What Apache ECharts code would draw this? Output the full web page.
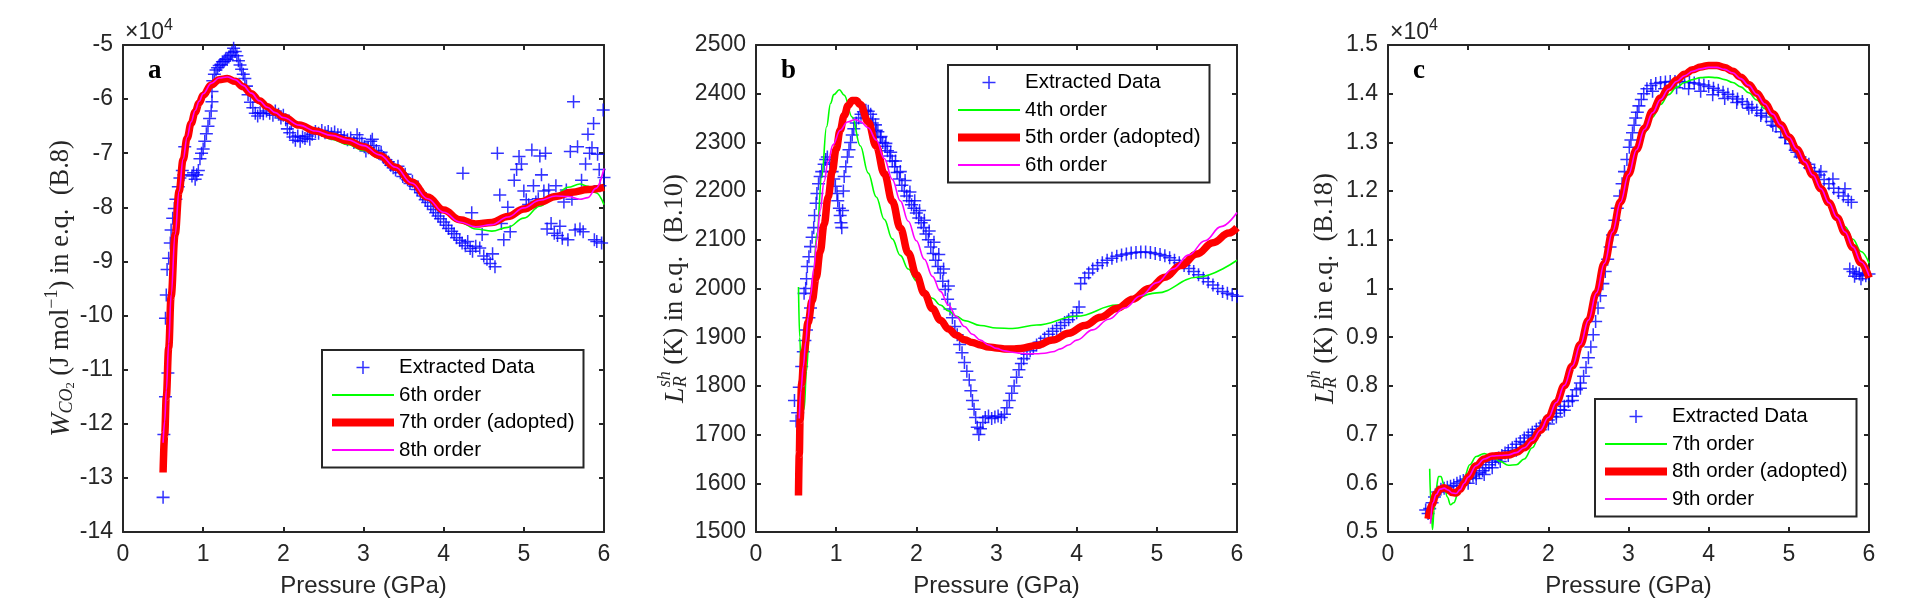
<!DOCTYPE html>
<html>
<head>
<meta charset="utf-8">
<title>Polynomial fits vs pressure</title>
<script src="https://cdn.jsdelivr.net/npm/echarts@6.0.0/dist/echarts.min.js"></script>
<style>
  html, body { margin: 0; padding: 0; background: #fff; }
  #chart { width: 1913px; height: 600px; }
</style>
</head>
<body>
<div id="chart"></div>
<script>
// ---- panel a : W_CO2 (x10^4 J/mol) ----
var aExtracted = [
  [0.50,-13.36],[0.51,-12.20],[0.53,-11.50],[0.56,-11.06],[0.53,-10.05],[0.54,-9.62],[0.55,-9.15],[0.57,-8.94],
  [0.59,-8.66],[0.60,-8.42],[0.62,-8.20],[0.64,-8.02],[0.66,-7.85],[0.69,-7.62],[0.71,-7.46],[0.74,-7.32],
  [0.76,-7.40],[0.77,-6.88],[0.86,-7.42],[0.88,-7.36],[0.90,-7.48],[0.92,-7.40],[0.94,-7.32],[0.96,-7.10],
  [0.98,-7.00],[1.00,-6.92],[1.02,-6.78],[1.04,-6.64],[1.06,-6.50],[1.08,-6.36],[1.10,-6.22],[1.11,-6.05],
  [1.11,-5.86],[1.12,-5.66],[1.14,-5.54],[1.16,-5.46],[1.18,-5.42],[1.20,-5.38],[1.22,-5.36],[1.24,-5.31],
  [1.26,-5.30],[1.28,-5.26],[1.30,-5.27],[1.32,-5.22],[1.34,-5.19],[1.36,-5.14],[1.38,-5.06],[1.40,-5.12],
  [1.42,-5.20],[1.44,-5.29],[1.46,-5.37],[1.48,-5.45],[1.50,-5.54],[1.52,-5.62],[1.54,-5.76],[1.56,-5.92],
  [1.59,-6.06],[1.62,-6.16],[1.65,-6.26],[1.68,-6.31],[1.71,-6.25],[1.75,-6.27],[1.79,-6.22],[1.83,-6.26],
  [1.87,-6.30],[1.90,-6.22],[1.94,-6.28],[1.97,-6.35],[2.00,-6.30],[2.03,-6.38],[2.05,-6.55],[2.08,-6.62],
  [2.10,-6.45],[2.12,-6.70],[2.15,-6.76],[2.18,-6.68],[2.21,-6.78],[2.24,-6.70],[2.27,-6.73],[2.30,-6.68],
  [2.33,-6.74],[2.36,-6.65],[2.40,-6.60],[2.44,-6.63],[2.48,-6.58],[2.52,-6.62],[2.56,-6.60],[2.60,-6.64],
  [2.64,-6.61],[2.68,-6.66],[2.72,-6.67],[2.76,-6.71],[2.80,-6.75],[2.84,-6.72],[2.88,-6.80],[2.92,-6.66],
  [2.95,-6.73],[2.98,-6.81],[3.01,-6.88],[3.03,-6.96],[3.06,-6.90],[3.09,-6.78],[3.11,-6.74],[3.13,-6.86],
  [3.16,-6.95],[3.19,-7.00],[3.22,-6.98],[3.25,-7.08],[3.28,-7.12],[3.31,-7.16],[3.34,-7.22],[3.37,-7.27],
  [3.40,-7.31],[3.43,-7.24],[3.46,-7.36],[3.49,-7.43],[3.52,-7.39],[3.55,-7.49],[3.58,-7.56],[3.61,-7.52],
  [3.64,-7.61],[3.67,-7.67],[3.71,-7.73],[3.74,-7.79],[3.77,-7.86],[3.80,-7.91],[3.84,-7.98],[3.87,-8.04],
  [3.90,-8.10],[3.93,-8.16],[3.96,-8.21],[4.00,-8.27],[4.03,-8.33],[4.06,-8.39],[4.10,-8.44],[4.13,-8.49],
  [4.16,-8.56],[4.20,-8.61],[4.23,-8.66],[4.27,-8.71],[4.30,-8.63],[4.33,-8.76],[4.36,-8.81],[4.40,-8.72],
  [4.24,-7.37],[4.35,-8.10],[4.45,-8.75],[4.48,-8.50],[4.50,-8.90],[4.54,-8.96],[4.58,-9.04],[4.61,-8.86],
  [4.64,-9.10],[4.67,-7.00],[4.70,-7.77],[4.72,-8.30],[4.75,-8.60],[4.80,-8.00],[4.83,-8.45],[4.88,-7.50],
  [4.91,-7.30],[4.94,-7.06],[4.97,-7.20],[5.00,-7.70],[5.03,-7.86],[5.06,-7.95],[5.10,-6.94],[5.12,-7.60],
  [5.15,-7.90],[5.18,-7.84],[5.20,-7.05],[5.22,-7.40],[5.25,-7.70],[5.27,-7.00],[5.29,-8.40],[5.31,-7.68],
  [5.34,-8.30],[5.38,-8.48],[5.40,-7.60],[5.42,-8.52],[5.45,-8.35],[5.48,-8.57],[5.50,-7.90],[5.53,-7.68],
  [5.55,-8.60],[5.58,-6.97],[5.60,-7.85],[5.62,-6.05],[5.64,-8.42],[5.67,-6.88],[5.70,-8.40],[5.72,-7.50],
  [5.74,-8.45],[5.77,-7.20],[5.80,-6.65],[5.82,-7.00],[5.85,-6.90],[5.87,-6.45],[5.88,-8.60],[5.91,-8.63],
  [5.92,-7.02],[5.94,-7.30],[5.95,-7.60],[5.97,-8.66],[5.99,-6.20],[6.00,-7.45]
];
var aFit6 = [
  [0.5,-12.85],[0.52,-12.15],[0.54,-11.45],[0.57,-10.55],[0.6,-9.62],[0.65,-8.48],[0.7,-7.69],[0.75,-7.11],
  [0.8,-6.71],[0.85,-6.44],[0.9,-6.23],[0.95,-6.06],[1.0,-5.92],[1.1,-5.73],[1.2,-5.63],[1.3,-5.61],
  [1.4,-5.65],[1.5,-5.74],[1.6,-5.86],[1.7,-5.99],[1.8,-6.11],[1.9,-6.22],[2.0,-6.32],[2.2,-6.49],
  [2.4,-6.62],[2.6,-6.74],[2.8,-6.84],[3.0,-6.95],[3.2,-7.09],[3.4,-7.28],[3.6,-7.53],[3.8,-7.8],
  [4.0,-8.06],[4.2,-8.27],[4.4,-8.4],[4.6,-8.44],[4.8,-8.37],[5.0,-8.2],[5.2,-7.98],[5.4,-7.77],
  [5.55,-7.63],[5.7,-7.57],[5.8,-7.61],[5.9,-7.73],[6.0,-7.95]
];
var aFit7 = [
  [0.5,-12.9],[0.52,-12.2],[0.54,-11.5],[0.57,-10.6],[0.6,-9.65],[0.65,-8.5],[0.7,-7.7],[0.75,-7.12],
  [0.8,-6.72],[0.85,-6.45],[0.9,-6.24],[0.95,-6.07],[1.0,-5.93],[1.1,-5.74],[1.2,-5.64],[1.3,-5.62],
  [1.4,-5.67],[1.5,-5.77],[1.6,-5.9],[1.7,-6.03],[1.8,-6.14],[1.9,-6.24],[2.0,-6.33],[2.2,-6.48],
  [2.4,-6.59],[2.6,-6.68],[2.8,-6.77],[3.0,-6.88],[3.2,-7.04],[3.4,-7.26],[3.6,-7.53],[3.8,-7.81],
  [4.0,-8.05],[4.2,-8.23],[4.4,-8.31],[4.6,-8.28],[4.8,-8.17],[5.0,-8.03],[5.2,-7.9],[5.4,-7.8],
  [5.6,-7.72],[5.8,-7.67],[6.0,-7.63]
];
var aFit8 = [
  [0.5,-12.35],[0.52,-11.95],[0.54,-11.38],[0.57,-10.52],[0.6,-9.62],[0.65,-8.5],[0.7,-7.7],[0.75,-7.11],
  [0.8,-6.7],[0.85,-6.42],[0.9,-6.21],[0.95,-6.04],[1.0,-5.9],[1.1,-5.71],[1.2,-5.61],[1.3,-5.59],
  [1.4,-5.64],[1.5,-5.75],[1.6,-5.89],[1.7,-6.03],[1.8,-6.15],[1.9,-6.25],[2.0,-6.34],[2.2,-6.48],
  [2.4,-6.59],[2.6,-6.67],[2.8,-6.75],[3.0,-6.86],[3.2,-7.03],[3.4,-7.26],[3.6,-7.55],[3.8,-7.84],
  [4.0,-8.09],[4.2,-8.27],[4.4,-8.36],[4.6,-8.32],[4.8,-8.18],[5.0,-8.01],[5.2,-7.87],[5.4,-7.79],
  [5.55,-7.8],[5.7,-7.85],[5.8,-7.82],[5.9,-7.65],[6.0,-7.28]
];

// ---- panel b : L_R^sh (K) ----
var bExtracted = [
  [0.48,1770],[0.50,1728],[0.52,1745],[0.54,1797],[0.57,1840],[0.59,1870],[0.61,1893],[0.63,1915],
  [0.66,1940],[0.68,1960],[0.60,1990],[0.62,2000],[0.63,2020],[0.64,2045],[0.66,2065],[0.68,2086],
  [0.70,2105],[0.72,2125],[0.73,2150],[0.75,2175],[0.76,2195],[0.78,2215],[0.80,2230],[0.82,2240],
  [0.85,2255],[0.87,2265],[0.89,2270],[0.92,2258],[0.95,2240],[0.97,2225],[0.99,2210],[1.01,2195],
  [1.02,2180],[1.04,2165],[1.05,2150],[1.06,2135],[1.07,2125],[1.08,2160],[1.09,2200],[1.10,2230],
  [1.12,2250],[1.14,2270],[1.16,2285],[1.18,2300],[1.20,2315],[1.22,2328],[1.25,2340],[1.28,2350],
  [1.31,2358],[1.34,2363],[1.37,2366],[1.40,2364],[1.43,2358],[1.46,2348],[1.49,2336],[1.52,2322],
  [1.55,2310],[1.58,2300],[1.61,2292],[1.64,2283],[1.67,2272],[1.70,2262],[1.73,2250],[1.76,2238],
  [1.79,2225],[1.82,2212],[1.85,2200],[1.88,2190],[1.91,2180],[1.94,2172],[1.97,2165],[2.00,2155],
  [2.03,2145],[2.06,2135],[2.09,2125],[2.12,2112],[2.15,2100],[2.18,2085],[2.21,2072],[2.24,2058],
  [2.27,2045],[2.30,2032],[2.33,2015],[2.36,1998],[2.39,1978],[2.42,1958],[2.45,1940],[2.48,1922],
  [2.51,1905],[2.54,1885],[2.57,1868],[2.60,1848],[2.63,1830],[2.66,1812],[2.68,1790],[2.70,1770],
  [2.72,1752],[2.74,1735],[2.76,1715],[2.78,1700],[2.80,1712],[2.83,1725],[2.86,1735],[2.90,1738],
  [2.94,1733],[2.98,1736],[3.02,1738],[3.06,1735],[3.10,1742],[3.13,1755],[3.16,1770],[3.19,1785],
  [3.22,1800],[3.25,1818],[3.28,1833],[3.31,1846],[3.34,1856],[3.38,1865],[3.42,1872],[3.46,1878],
  [3.50,1884],[3.55,1890],[3.60,1898],[3.65,1906],[3.70,1912],[3.75,1918],[3.80,1924],[3.85,1930],
  [3.90,1936],[3.95,1943],[4.00,1950],[4.03,1962],[4.05,2010],[4.10,2022],[4.15,2032],[4.20,2040],
  [4.26,2047],[4.32,2053],[4.38,2058],[4.44,2062],[4.50,2066],[4.56,2069],[4.62,2071],[4.68,2073],
  [4.74,2074],[4.80,2075],[4.86,2075],[4.92,2074],[4.98,2072],[5.04,2070],[5.10,2067],[5.16,2063],
  [5.22,2058],[5.28,2053],[5.34,2047],[5.40,2041],[5.46,2035],[5.52,2028],[5.58,2021],[5.64,2014],
  [5.70,2007],[5.76,2000],[5.82,1994],[5.88,1990],[5.94,1987],[6.00,1984],
  [1.45,2340],[1.50,2325],[1.56,2312],[1.62,2298],[1.68,2280],[1.74,2262],[1.80,2240],[1.86,2222],
  [1.92,2198],[1.98,2180],[2.04,2160],[2.10,2140],[2.16,2118],[2.22,2095],[2.28,2070],[2.34,2040],[2.40,2005]
];
var bFit4 = [
  [0.53,2003],[0.545,1900],[0.57,1800],[0.6,1752],[0.63,1830],[0.67,1930],[0.71,2010],[0.76,2114],
  [0.82,2230],[0.88,2332],[0.93,2380],[0.97,2398],[1.04,2408],[1.1,2397],[1.2,2352],[1.3,2293],
  [1.4,2237],[1.5,2188],[1.6,2142],[1.7,2102],[1.8,2068],[1.9,2040],[2.0,2016],[2.1,1996],
  [2.2,1980],[2.3,1966],[2.4,1954],[2.5,1943],[2.6,1934],[2.8,1924],[3.0,1919],[3.2,1918],
  [3.5,1925],[4.0,1943],[4.5,1966],[5.0,1991],[5.5,2023],[6.0,2058]
];
var bFit5 = [
  [0.53,1575],[0.54,1660],[0.55,1730],[0.57,1805],[0.6,1870],[0.65,1930],[0.7,1975],[0.75,2022],
  [0.8,2075],[0.85,2132],[0.9,2188],[0.95,2240],[1.0,2286],[1.05,2325],[1.1,2355],[1.15,2376],
  [1.2,2386],[1.25,2386],[1.3,2378],[1.4,2342],[1.5,2292],[1.6,2236],[1.7,2179],[1.8,2124],
  [1.9,2073],[2.0,2028],[2.1,1990],[2.2,1959],[2.3,1935],[2.4,1917],[2.5,1904],[2.6,1895],
  [2.7,1889],[2.8,1884],[2.9,1880],[3.0,1878],[3.1,1876],[3.2,1876],[3.3,1877],[3.5,1883],
  [3.7,1894],[3.9,1908],[4.1,1924],[4.3,1941],[4.5,1959],[4.7,1978],[4.9,2000],[5.1,2023],
  [5.3,2047],[5.5,2071],[5.7,2094],[5.9,2114],[6.0,2125]
];
var bFit6 = [
  [0.54,1733],[0.56,1790],[0.59,1840],[0.62,1890],[0.65,1940],[0.68,1985],[0.72,2040],[0.76,2100],
  [0.8,2160],[0.85,2220],[0.9,2262],[0.96,2295],[1.05,2325],[1.14,2342],[1.24,2347],[1.3,2343],
  [1.4,2330],[1.5,2305],[1.6,2267],[1.7,2224],[1.8,2180],[1.9,2138],[2.0,2098],[2.1,2060],
  [2.2,2025],[2.3,1994],[2.4,1966],[2.5,1942],[2.6,1922],[2.7,1906],[2.8,1894],[2.9,1884],
  [3.0,1877],[3.1,1872],[3.2,1869],[3.3,1867],[3.4,1866],[3.5,1866],[3.6,1867],[3.7,1870],
  [3.8,1876],[3.9,1884],[4.0,1894],[4.2,1915],[4.4,1937],[4.6,1960],[4.8,1985],[5.0,2012],
  [5.2,2040],[5.4,2069],[5.6,2098],[5.8,2127],[6.0,2156]
];

// ---- panel c : L_R^ph (x10^4 K) ----
var cExtracted = [
  [0.47,0.545],[0.50,0.538],[0.52,0.548],[0.55,0.560],[0.58,0.572],[0.62,0.582],[0.66,0.588],[0.70,0.590],
  [0.74,0.592],[0.78,0.594],[0.82,0.596],[0.86,0.600],[0.90,0.603],[0.94,0.606],[0.98,0.609],[1.02,0.612],
  [1.06,0.615],[1.10,0.619],[1.14,0.622],[1.18,0.626],[1.22,0.632],[1.26,0.638],[1.30,0.643],[1.34,0.648],
  [1.38,0.652],[1.42,0.657],[1.46,0.662],[1.50,0.667],[1.55,0.673],[1.60,0.680],[1.65,0.686],[1.70,0.693],
  [1.75,0.699],[1.80,0.705],[1.85,0.711],[1.90,0.717],[1.95,0.724],[2.00,0.730],[2.05,0.737],[2.10,0.744],
  [2.15,0.751],[2.20,0.758],[2.25,0.768],[2.30,0.779],[2.35,0.792],[2.40,0.806],[2.44,0.820],[2.47,0.838],
  [2.50,0.858],[2.53,0.880],[2.56,0.905],[2.59,0.932],[2.62,0.960],[2.65,0.985],[2.68,1.010],[2.71,1.035],
  [2.74,1.060],[2.77,1.085],[2.80,1.110],[2.83,1.140],[2.86,1.165],[2.89,1.190],[2.92,1.215],[2.95,1.240],
  [2.98,1.265],[3.01,1.290],[3.03,1.305],[3.05,1.320],[3.07,1.335],[3.09,1.350],[3.11,1.362],[3.13,1.375],
  [3.16,1.388],[3.19,1.400],[3.23,1.410],[3.28,1.417],[3.34,1.421],[3.40,1.423],[3.46,1.424],[3.52,1.425],
  [3.58,1.425],[3.64,1.425],[3.70,1.424],[3.76,1.423],[3.82,1.422],[3.88,1.420],[3.94,1.418],[4.00,1.415],
  [4.06,1.411],[4.12,1.407],[4.18,1.403],[4.24,1.399],[4.30,1.394],[4.36,1.389],[4.42,1.384],[4.48,1.378],
  [4.54,1.372],[4.60,1.366],[4.66,1.360],[4.72,1.352],[4.78,1.343],[4.84,1.333],[4.90,1.322],[4.96,1.310],
  [5.02,1.297],[5.08,1.284],[5.14,1.270],[5.20,1.258],[5.26,1.248],[5.32,1.240],[5.38,1.233],[5.44,1.224],
  [5.50,1.215],[5.56,1.206],[5.62,1.197],[5.68,1.190],[5.74,1.182],[5.78,1.177],
  [5.76,1.040],[5.80,1.035],[5.84,1.032],[5.88,1.030],[5.92,1.028],[5.96,1.026],[6.00,1.030],[5.82,1.025],[5.90,1.020],
  [1.00,0.600],[1.10,0.610],[1.20,0.618],[1.30,0.632],[1.40,0.645],[1.50,0.657],[1.60,0.668],[1.70,0.684],
  [1.80,0.697],[1.90,0.710],[2.00,0.722],[2.10,0.736],[2.20,0.750],[2.30,0.770],[2.40,0.795],
  [3.30,1.405],[3.45,1.410],[3.60,1.412],[3.75,1.410],[3.90,1.405],[4.05,1.398],[4.20,1.390],[4.35,1.382],
  [4.50,1.370],[4.65,1.355],[4.80,1.335],[4.95,1.310],[5.10,1.280],[5.25,1.255],[5.40,1.240],[5.55,1.225],[5.70,1.205]
];
var cFit7 = [
  [0.52,0.63],[0.535,0.56],[0.555,0.505],[0.575,0.545],[0.6,0.59],[0.63,0.614],[0.66,0.614],[0.7,0.596],
  [0.74,0.572],[0.78,0.556],[0.82,0.56],[0.88,0.582],[0.95,0.612],[1.02,0.638],[1.1,0.655],[1.2,0.661],
  [1.3,0.655],[1.4,0.645],[1.5,0.637],[1.6,0.638],[1.7,0.65],[1.8,0.673],[1.9,0.703],[2.0,0.735],
  [2.1,0.766],[2.2,0.801],[2.3,0.841],[2.4,0.885],[2.5,0.935],[2.6,0.991],[2.7,1.051],[2.8,1.114],
  [2.9,1.174],[3.0,1.229],[3.1,1.278],[3.2,1.319],[3.3,1.352],[3.4,1.378],[3.5,1.398],[3.6,1.413],
  [3.7,1.423],[3.8,1.429],[3.9,1.433],[4.0,1.434],[4.1,1.433],[4.2,1.429],[4.3,1.423],[4.4,1.414],
  [4.5,1.402],[4.6,1.387],[4.7,1.369],[4.8,1.349],[4.9,1.327],[5.0,1.304],[5.1,1.28],[5.2,1.256],
  [5.3,1.231],[5.4,1.205],[5.5,1.179],[5.6,1.153],[5.7,1.127],[5.8,1.101],[5.9,1.076],[6.0,1.052]
];
var cFit8 = [
  [0.5,0.527],[0.55,0.557],[0.6,0.578],[0.65,0.588],[0.7,0.591],[0.75,0.587],[0.8,0.581],[0.85,0.58],
  [0.9,0.588],[0.95,0.6],[1.0,0.613],[1.1,0.636],[1.2,0.65],[1.3,0.656],[1.4,0.657],[1.5,0.658],
  [1.6,0.663],[1.7,0.673],[1.8,0.688],[1.9,0.709],[2.0,0.735],[2.1,0.766],[2.2,0.801],[2.3,0.841],
  [2.4,0.885],[2.5,0.935],[2.6,0.991],[2.7,1.052],[2.8,1.116],[2.9,1.178],[3.0,1.235],[3.1,1.286],
  [3.2,1.329],[3.3,1.364],[3.4,1.391],[3.5,1.412],[3.6,1.428],[3.7,1.44],[3.8,1.449],[3.9,1.455],
  [4.0,1.458],[4.1,1.458],[4.2,1.454],[4.3,1.446],[4.4,1.434],[4.5,1.419],[4.6,1.401],[4.7,1.381],
  [4.8,1.359],[4.9,1.336],[5.0,1.311],[5.1,1.286],[5.2,1.26],[5.3,1.233],[5.4,1.205],[5.5,1.176],
  [5.6,1.146],[5.7,1.115],[5.8,1.084],[5.9,1.053],[6.0,1.022]
];
var cFit9 = [
  [0.53,0.517],[0.56,0.56],[0.6,0.577],[0.65,0.588],[0.7,0.59],[0.75,0.586],[0.8,0.58],[0.85,0.579],
  [0.9,0.587],[0.95,0.6],[1.0,0.613],[1.1,0.636],[1.2,0.65],[1.3,0.656],[1.4,0.657],[1.5,0.658],
  [1.6,0.663],[1.7,0.673],[1.8,0.688],[1.9,0.709],[2.0,0.735],[2.1,0.766],[2.2,0.801],[2.3,0.841],
  [2.4,0.885],[2.5,0.935],[2.6,0.991],[2.7,1.052],[2.8,1.116],[2.9,1.177],[3.0,1.234],[3.1,1.285],
  [3.2,1.327],[3.3,1.361],[3.4,1.388],[3.5,1.409],[3.6,1.425],[3.7,1.437],[3.8,1.446],[3.9,1.451],
  [4.0,1.454],[4.1,1.454],[4.2,1.45],[4.3,1.443],[4.4,1.431],[4.5,1.417],[4.6,1.399],[4.7,1.379],
  [4.8,1.358],[4.9,1.335],[5.0,1.311],[5.1,1.286],[5.2,1.26],[5.3,1.233],[5.4,1.205],[5.5,1.176],
  [5.6,1.146],[5.7,1.116],[5.8,1.085],[5.9,1.055],[6.0,1.026]
];

var panelLetters = ['a', 'b', 'c'];
var legendNames = [
  ['Extracted Data', '6th order', '7th order (adopted)', '8th order'],
  ['Extracted Data', '4th order', '5th order (adopted)', '6th order'],
  ['Extracted Data', '7th order', '8th order (adopted)', '9th order']
];
var yRanges = [[-14, -5, 1], [1500, 2500, 100], [0.5, 1.5, 0.1]];

// ---- style ----
var AX = '#262626';
var BLUE = '#0000ff', GREEN = '#00ff00', RED = '#ff0000', MAGENTA = '#ff00ff';
var SANS = 'Liberation Sans';
var SERIF = 'Liberation Serif';
var GRID_LEFT = [123, 756, 1388];
var PLUS = 'path://M5.3,0H6.7V5.3H12V6.7H6.7V12H5.3V6.7H0V5.3H5.3Z';
var THIN = 'path://M0,0H62V2H0Z';
var THICK = 'path://M0,0H62V8H0Z';

var serifRich = {
  w: { fontFamily: SERIF, fontStyle: 'italic', fontSize: 28, color: AX },
  sb: { fontFamily: SERIF, fontStyle: 'italic', fontSize: 18, color: AX, padding: [12, 0, 0, 0] },
  ssb: { fontFamily: SERIF, fontSize: 12.5, color: AX, padding: [19, 0, 0, 0] },
  sp: { fontFamily: SERIF, fontSize: 18, color: AX, padding: [0, 0, 19, 0] },
  sp2: { fontFamily: SERIF, fontStyle: 'italic', fontSize: 18, color: AX, padding: [0, 0, 21, -11] },
  n: { fontFamily: SERIF, fontSize: 26.5, color: AX }
};
var yNames = [
  '{w|W}{sb|CO}{ssb|2}{n| (J mol}{sp|−1}{n|) in e.q.  (B.8)}',
  '{w|L}{sb|R}{sp2|sh}{n| (K) in e.q.  (B.10)}',
  '{w|L}{sb|R}{sp2|ph}{n| (K) in e.q.  (B.18)}'
];
var yNameGap = [43, 61, 43];
var legendPos = [[322, 350], [948, 65], [1595, 399]];

var line = { show: true, onZero: false, lineStyle: { color: AX, width: 2 } };
var tick = { show: true, inside: true, length: 5, lineStyle: { color: AX, width: 2 } };
var tickLabel = { color: AX, fontFamily: SANS, fontSize: 23 };

var grids = [], xAxes = [], yAxes = [], series = [], legends = [], graphics = [];

for (var i = 0; i < 3; i++) {
  grids.push({ left: GRID_LEFT[i], top: 45, width: 481, height: 487, outerBoundsMode: 'none' });

  xAxes.push({
    gridIndex: i, type: 'value', position: 'bottom', min: 0, max: 6, interval: 1,
    name: 'Pressure (GPa)', nameLocation: 'middle', nameGap: 42, nameMoveOverlap: false,
    nameTextStyle: { color: AX, fontFamily: SANS, fontSize: 24 },
    axisLine: line, axisTick: tick, splitLine: { show: false },
    axisLabel: Object.assign({ margin: 11 }, tickLabel)
  });
  xAxes.push({
    gridIndex: i, type: 'value', position: 'top', min: 0, max: 6, interval: 1,
    axisLine: line, axisTick: tick, splitLine: { show: false }, axisLabel: { show: false }
  });

  var r = yRanges[i];
  yAxes.push({
    gridIndex: i, type: 'value', position: 'left', min: r[0], max: r[1], interval: r[2],
    name: yNames[i], nameLocation: 'middle', nameRotate: 90, nameGap: yNameGap[i], nameMoveOverlap: false,
    nameTextStyle: { color: AX, fontFamily: SERIF, fontSize: 26.5, rich: serifRich },
    axisLine: line, axisTick: tick, splitLine: { show: false },
    axisLabel: Object.assign({
      margin: 10,
      formatter: function (v) { return String(Math.round(v * 10) / 10); }
    }, tickLabel)
  });
  yAxes.push({
    gridIndex: i, type: 'value', position: 'right', min: r[0], max: r[1], interval: r[2],
    axisLine: line, axisTick: tick, splitLine: { show: false }, axisLabel: { show: false }
  });

  var names = legendNames[i];
  legends.push({
    orient: 'vertical', left: legendPos[i][0], top: legendPos[i][1],
    padding: [5, 9, 5, 10], itemWidth: 62, itemHeight: 13, itemGap: 2.5,
    backgroundColor: '#fff', borderColor: AX, borderWidth: 2, borderRadius: 0,
    selectedMode: false,
    textStyle: { color: '#000', fontFamily: SANS, fontSize: 20.5, lineHeight: 25 },
    data: [
      { name: names[0], icon: PLUS, itemStyle: { color: BLUE } },
      { name: names[1], icon: THIN, itemStyle: { color: GREEN } },
      { name: names[2], icon: THICK, itemStyle: { color: RED } },
      { name: names[3], icon: THIN, itemStyle: { color: MAGENTA } }
    ]
  });

  graphics.push({
    type: 'text', x: GRID_LEFT[i] + 25, y: 71,
    style: { text: panelLetters[i], fontFamily: SERIF, fontWeight: 'bold', fontSize: 27, fill: '#000', verticalAlign: 'middle' }
  });
}

// x10^4 multipliers (panels a and c)
[0, 2].forEach(function (i) {
  graphics.push({
    type: 'text', x: GRID_LEFT[i] + 2, y: 33,
    style: {
      text: '{m|×10}{e|4}', verticalAlign: 'middle',
      rich: {
        m: { fontFamily: SANS, fontSize: 23, fill: AX },
        e: { fontFamily: SANS, fontSize: 16, fill: AX, padding: [0, 0, 15, 0] }
      }
    }
  });
});

function scatter(i, name, data) {
  return {
    type: 'scatter', name: name, xAxisIndex: 2 * i, yAxisIndex: 2 * i, data: data,
    symbol: PLUS, symbolSize: 13, itemStyle: { color: BLUE }, silent: true
  };
}
function fit(i, name, data, color, width) {
  return {
    type: 'line', name: name, xAxisIndex: 2 * i, yAxisIndex: 2 * i, data: data,
    symbol: 'none', showSymbol: false, smooth: 0.4, smoothMonotone: 'x',
    lineStyle: { color: color, width: width }, itemStyle: { color: color }, silent: true
  };
}

series.push(
  scatter(0, legendNames[0][0], aExtracted),
  fit(0, legendNames[0][1], aFit6, GREEN, 1.6),
  fit(0, legendNames[0][2], aFit7, RED, 7.5),
  fit(0, legendNames[0][3], aFit8, MAGENTA, 1.6),
  scatter(1, legendNames[1][0], bExtracted),
  fit(1, legendNames[1][1], bFit4, GREEN, 1.6),
  fit(1, legendNames[1][2], bFit5, RED, 7.5),
  fit(1, legendNames[1][3], bFit6, MAGENTA, 1.6),
  scatter(2, legendNames[2][0], cExtracted),
  fit(2, legendNames[2][1], cFit7, GREEN, 1.6),
  fit(2, legendNames[2][2], cFit8, RED, 7.5),
  fit(2, legendNames[2][3], cFit9, MAGENTA, 1.6)
);

var option = {
  animation: false,
  backgroundColor: '#fff',
  grid: grids,
  xAxis: xAxes,
  yAxis: yAxes,
  legend: legends,
  graphic: graphics,
  series: series
};

var chart = echarts.init(document.getElementById('chart'), null, { renderer: 'canvas' });
chart.setOption(option);
</script>
</body>
</html>
